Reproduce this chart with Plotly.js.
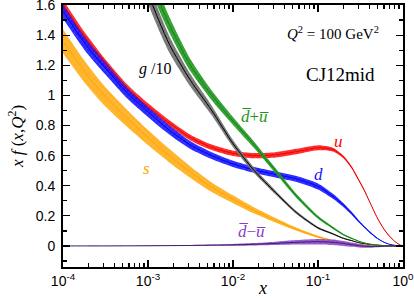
<!DOCTYPE html>
<html>
<head>
<meta charset="utf-8">
<script src="https://cdn.plot.ly/plotly-3.0.1.min.js"></script>
<style>html,body{margin:0;padding:0;background:#fff;}#chart{width:414px;height:300px;}</style>
</head>
<body>
<div id="chart"></div>
<script>
// x grid (momentum fraction)
const xGrid = [1e-4, 1.78e-4, 3.16e-4, 5.62e-4, 1e-3, 1.78e-3, 3.16e-3, 5.62e-3, 0.01, 0.0178, 0.0316, 0.0562, 0.1, 0.15, 0.2, 0.25, 0.3, 0.35, 0.4, 0.5, 0.6, 0.7, 0.8, 0.9, 1.0];

// central values
const uVal     = [1.60, 1.39, 1.21, 1.05, 0.925, 0.815, 0.72, 0.655, 0.615, 0.600, 0.605, 0.627, 0.652, 0.64, 0.59, 0.52, 0.44, 0.37, 0.30, 0.185, 0.11, 0.062, 0.03, 0.01, 0];
const dVal     = [1.56, 1.35, 1.18, 1.02, 0.89, 0.77, 0.67, 0.60, 0.545, 0.505, 0.475, 0.445, 0.395, 0.33, 0.27, 0.215, 0.165, 0.127, 0.095, 0.05, 0.024, 0.01, 0.004, 0.001, 0];
const sVal     = [1.36, 1.16, 0.99, 0.85, 0.72, 0.60, 0.49, 0.39, 0.31, 0.235, 0.17, 0.11, 0.06, 0.035, 0.022, 0.014, 0.009, 0.006, 0.004, 0.002, 0.001, 0, 0, 0, 0];
const g10Val   = [4.0, 3.3, 2.65, 2.12, 1.68, 1.34, 1.10, 0.90, 0.68, 0.50, 0.355, 0.22, 0.12, 0.08, 0.05, 0.035, 0.022, 0.015, 0.01, 0.005, 0.002, 0.001, 0, 0, 0];
const dbpubVal = [4.3, 3.5, 2.85, 2.28, 1.81, 1.47, 1.20, 1.00, 0.83, 0.67, 0.50, 0.33, 0.19, 0.12, 0.075, 0.05, 0.032, 0.02, 0.013, 0.006, 0.002, 0.001, 0, 0, 0];
const dbmubVal = [0, 0, 0, 0.0005, 0.001, 0.002, 0.003, 0.005, 0.007, 0.011, 0.017, 0.024, 0.028, 0.024, 0.016, 0.008, 0.002, -0.002, -0.004, -0.004, -0.002, -0.001, 0, 0, 0];

// uncertainty half-widths
const uErr     = [0.035, 0.032, 0.028, 0.025, 0.022, 0.02, 0.019, 0.018, 0.018, 0.018, 0.018, 0.018, 0.017, 0.013, 0.009, 0.007, 0.006, 0.005, 0.004, 0.003, 0.002, 0.002, 0.001, 0.001, 0];
const dErr     = [0.05, 0.046, 0.042, 0.038, 0.034, 0.03, 0.026, 0.023, 0.021, 0.02, 0.02, 0.02, 0.02, 0.017, 0.013, 0.01, 0.008, 0.006, 0.005, 0.003, 0.002, 0.001, 0.001, 0, 0];
const sErr     = [0.08, 0.072, 0.064, 0.057, 0.05, 0.045, 0.038, 0.032, 0.026, 0.02, 0.015, 0.01, 0.007, 0.004, 0.003, 0.002, 0.001, 0.001, 0.001, 0, 0, 0, 0, 0, 0];
const g10Err   = [0.09, 0.085, 0.08, 0.075, 0.07, 0.055, 0.042, 0.032, 0.024, 0.018, 0.014, 0.01, 0.007, 0.005, 0.004, 0.003, 0.002, 0.001, 0.001, 0, 0, 0, 0, 0, 0];
const dbpubErr = [0.09, 0.085, 0.08, 0.072, 0.065, 0.052, 0.04, 0.032, 0.026, 0.021, 0.017, 0.013, 0.01, 0.007, 0.005, 0.004, 0.003, 0.002, 0.002, 0.001, 0, 0, 0, 0, 0];
const dbmubErr = [0, 0, 0.001, 0.001, 0.002, 0.002, 0.003, 0.004, 0.006, 0.008, 0.011, 0.015, 0.018, 0.018, 0.016, 0.014, 0.012, 0.01, 0.008, 0.005, 0.003, 0.001, 0, 0, 0];

// tick labels
const xTickVals = [1e-4, 1e-3, 1e-2, 1e-1, 1];
const xTickText = ['10<sup>-4</sup>', '10<sup>-3</sup>', '10<sup>-2</sup>', '10<sup>-1</sup>', '10<sup>0</sup>'];

// drawing order: bands first (u under d), then centre lines
const series = {
  s:     {v: sVal, e: sErr, band: 'rgba(255,172,20,0.92)', line: '#ffa500'},
  u:     {v: uVal, e: uErr, band: 'rgba(255,20,20,0.92)', line: '#ee0000'},
  d:     {v: dVal, e: dErr, band: 'rgba(20,20,255,0.92)', line: '#0000ee'},
  g:     {v: g10Val, e: g10Err, band: 'rgba(110,110,110,0.95)', line: '#000000'},
  dbpub: {v: dbpubVal, e: dbpubErr, band: 'rgba(30,150,30,0.92)', line: '#118811'},
  dbmub: {v: dbmubVal, e: dbmubErr, band: 'rgba(135,65,205,0.9)', line: '#3c1e5a'}
};
const spl = {shape: 'spline', smoothing: 0.7};
const bandTraces = s => {
  const up = s.v.map((v, i) => v + s.e[i]);
  const lo = s.v.map((v, i) => v - s.e[i]);
  return [
    {x: xGrid, y: up, type: 'scatter', mode: 'lines', line: Object.assign({width: 0, color: s.band}, spl), hoverinfo: 'skip', showlegend: false},
    {x: xGrid, y: lo, type: 'scatter', mode: 'lines', fill: 'tonexty', fillcolor: s.band,
     fillpattern: {shape: 'x', bgcolor: s.band, fgcolor: 'rgba(255,255,255,0.4)', size: 4, solidity: 0.12},
     line: Object.assign({width: 0, color: s.band}, spl), hoverinfo: 'skip', showlegend: false}
  ];
};
const lineTrace = s => ({x: xGrid, y: s.v, type: 'scatter', mode: 'lines', line: Object.assign({color: s.line, width: 1}, spl), showlegend: false});

const traces = [].concat(
  bandTraces(series.s), bandTraces(series.u), bandTraces(series.d),
  [lineTrace(series.s), lineTrace(series.u), lineTrace(series.d)],
  bandTraces(series.g), [lineTrace(series.g)],
  bandTraces(series.dbpub), [lineTrace(series.dbpub)],
  bandTraces(series.dbmub), [lineTrace(series.dbmub)]
);

const minorX = [];
for (let d = -4; d < 0; d++) for (let k = 2; k <= 9; k++) minorX.push(k * Math.pow(10, d));

const serif = 'Liberation Serif, Times New Roman, serif';
const ann = (text, x, y, color, size, ya) => ({
  text: text, xref: 'paper', yref: 'paper', x: (x - 63) / 340, y: (267 - y) / 262,
  xanchor: 'center', yanchor: ya || 'middle', showarrow: false,
  font: {family: serif, size: size, color: color}
});

const layout = {
  width: 414, height: 300,
  margin: {l: 63, r: 11, t: 5, b: 33},
  paper_bgcolor: '#fff', plot_bgcolor: '#fff',
  showlegend: false,
  font: {family: 'Liberation Sans, Arial, sans-serif', size: 14, color: '#000'},
  xaxis: {
    type: 'log', range: [-4, 0],
    tickmode: 'array', tickvals: xTickVals, ticktext: xTickText,
    ticks: 'inside', ticklen: 7, tickwidth: 1.3, tickcolor: '#000',
    minor: {tickmode: 'array', tickvals: minorX, ticks: 'inside', ticklen: 4, tickwidth: 1.3, tickcolor: '#000', showgrid: false},
    showline: true, linewidth: 2, linecolor: '#000', mirror: 'ticks',
    showgrid: false, zeroline: false,
    ticklabelstandoff: 0, ticklabeloverflow: 'allow'
  },
  yaxis: {
    range: [-0.14, 1.6005], tick0: 0, dtick: 0.2,
    ticks: 'inside', ticklen: 7, tickwidth: 1.3, tickcolor: '#000',
    minor: {dtick: 0.1, tick0: 0, ticks: 'inside', ticklen: 4, tickwidth: 1.3, tickcolor: '#000', showgrid: false},
    showline: true, linewidth: 2, linecolor: '#000', mirror: 'ticks',
    showgrid: false, zeroline: false,
    ticklabelstandoff: 3, ticklabeloverflow: 'allow',
    title: {text: '<i>x f</i> (<i>x</i>,<i>Q</i><sup>2</sup>)', font: {family: serif, size: 17, color: '#000'}, standoff: 8}
  },
  annotations: [
    ann('<i>x</i>', 262, 300, '#000', 18, 'bottom'),
    ann('<i>Q</i><sup>2</sup> = 100 GeV<sup>2</sup>', 333, 33, '#000', 15),
    ann('CJ12mid', 340, 74, '#000', 19),
    ann('<i>g</i> /10', 155, 69, '#000', 16),
    ann('<i>d\u0305</i>+<i>u\u0305</i>', 255, 116, '#1e961e', 17),
    ann('<i>u</i>', 338, 142, '#ff0000', 17),
    ann('<i>d</i>', 318, 174, '#1414ff', 17),
    ann('<i>s</i>', 146, 168, '#ffa500', 17),
    ann('<i>d\u0305</i>\u2212<i>u\u0305</i>', 252, 232, '#8a3cc8', 17)
  ]
};

Plotly.newPlot('chart', traces, layout, {displayModeBar: false, staticPlot: true});
</script>
</body>
</html>
